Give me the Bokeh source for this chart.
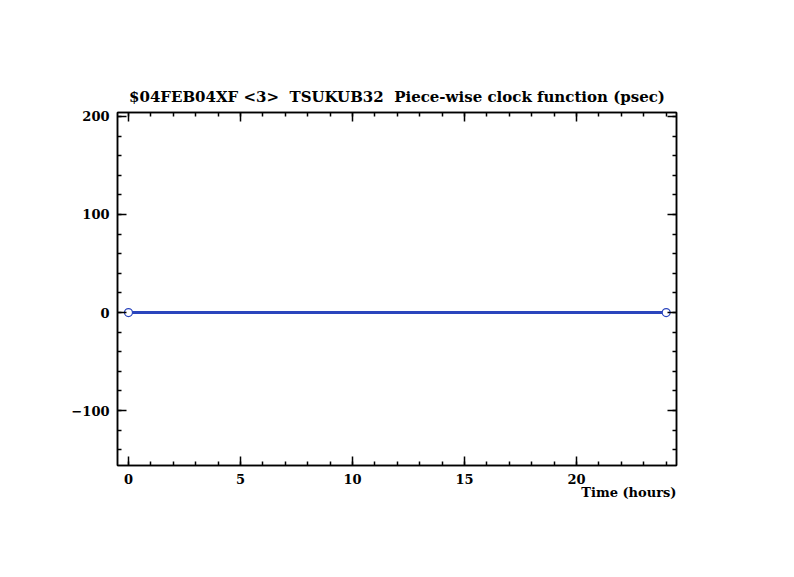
from bokeh.plotting import figure
from bokeh.models import LinearAxis, Range1d, Title, FixedTicker
from bokeh.embed import file_html
from bokeh.resources import INLINE

# data
time_hours = [0.0, 24.0]
clock_psec = [0.0, 0.0]
x_major = [0, 5, 10, 15, 20]
x_minor = list(range(0, 25))
y_major = [-100, 0, 100, 200]
y_minor = list(range(-140, 201, 20))

FONT = "DejaVu Serif"
BLUE = "#2a45bd"
NB = "\u00a0"

p = figure(width=778, height=561, output_backend="svg", toolbar_location=None,
           x_range=Range1d(-0.49, 24.46), y_range=Range1d(-156, 204),
           x_axis_location=None, y_axis_location=None,
           min_border_left=117, min_border_right=102, min_border_top=112, min_border_bottom=96,
           outline_line_color="black", outline_line_width=1.5)
p.grid.visible = False
p.background_fill_color = "white"
p.border_fill_color = "white"

def make_axis(major, minor, show_labels):
    ax = LinearAxis(ticker=FixedTicker(ticks=major, minor_ticks=minor))
    ax.major_tick_in = 9
    ax.major_tick_out = 0
    ax.minor_tick_in = 4
    ax.minor_tick_out = 0
    ax.major_tick_line_width = 1.5
    ax.minor_tick_line_width = 1.5
    ax.axis_line_width = 1.5
    ax.major_label_text_font = FONT
    ax.major_label_text_font_style = "bold"
    ax.major_label_text_font_size = "13px"
    ax.major_label_text_color = "black"
    ax.major_label_standoff = 8
    if not show_labels:
        ax.major_label_overrides = {t: "" for t in major}
        ax.major_label_standoff = 0
    return ax

p.add_layout(make_axis(y_major, y_minor, True), "left")
p.add_layout(make_axis(y_major, y_minor, False), "right")
p.add_layout(make_axis(x_major, x_minor, True), "below")
p.add_layout(make_axis(x_major, x_minor, False), "above")

p.line(time_hours, clock_psec, line_color=BLUE, line_width=3)
p.scatter(time_hours, clock_psec, size=8, marker="circle", fill_color="white",
          line_color=BLUE, line_width=1.2)

p.title.text = f"$04FEB04XF <3>{NB}{NB}TSUKUB32{NB}{NB}Piece-wise clock function (psec)"
p.title.align = "center"
p.title.text_font = FONT
p.title.text_font_style = "bold"
p.title.text_color = "black"
p.title.text_font_size = "15px"
p.title.standoff = 13

p.add_layout(Title(text="Time (hours)", align="right", text_font=FONT,
                   text_font_style="bold", text_color="black",
                   text_font_size="13px", standoff=-7), "below")

open("out.html", "w").write(file_html(p, INLINE))
